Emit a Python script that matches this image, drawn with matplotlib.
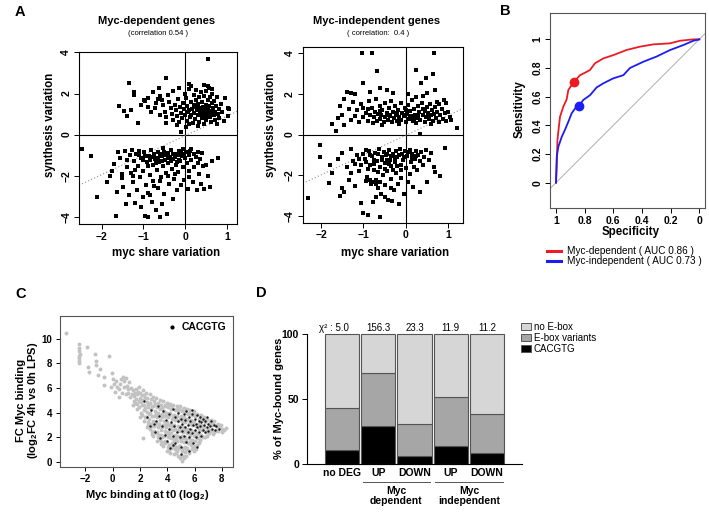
import numpy as np
import matplotlib
matplotlib.use("Agg")
import matplotlib.pyplot as plt
from matplotlib.patches import Patch
from matplotlib.lines import Line2D

plt.rcParams['font.family'] = ['Liberation Sans', 'DejaVu Sans']
plt.rcParams['mathtext.fontset'] = 'custom'
plt.rcParams['mathtext.rm'] = 'Liberation Sans:bold'
plt.rcParams['mathtext.default'] = 'rm'
plt.rcParams['axes.linewidth'] = 0.8

# -----------------------------
# data: panel A (myc share variation, synthesis variation)
# -----------------------------
dep_up = [
    (0.54, 3.66), (-0.46, 2.76), (-1.34, 2.49), (-1.23, 2.08), (-1.22, 1.95), (-1.58, 1.38), (-1.46, 1.14),
    (-1.38, 0.91), (-1.12, 0.57), (-0.99, 1.67), (-0.95, 1.65), (-0.78, 2.06), (-0.62, 2.25), (-0.60, 1.90),
    (-0.88, 1.35), (-0.82, 1.10), (-0.70, 1.55), (-0.72, 1.30), (-0.55, 1.70), (-0.52, 1.45), (-0.48, 1.10),
    (-0.45, 0.85), (-0.40, 1.95), (-0.38, 1.60), (-0.35, 1.30), (-0.32, 1.00), (-0.30, 0.70), (-0.28, 2.10),
    (-0.25, 1.45), (-0.22, 1.20), (-0.20, 0.90), (-0.18, 1.75), (-0.15, 0.60), (-0.12, 1.35), (-0.10, 1.05),
    (-0.08, 0.80), (-0.05, 1.55), (-0.03, 1.25), (-0.10, 0.12), (0.00, 0.95), (0.02, 1.80), (0.04, 0.65),
    (0.05, 1.40), (0.07, 1.10), (0.08, 2.20), (0.10, 2.45), (0.12, 0.85), (0.13, 1.60), (0.15, 2.35),
    (0.16, 1.25), (0.18, 0.55), (0.20, 1.95), (0.21, 1.05), (0.22, 1.45), (0.24, 0.75), (0.25, 2.15),
    (0.27, 1.70), (0.28, 1.20), (0.30, 0.95), (0.31, 1.50), (0.33, 0.60), (0.34, 1.85), (0.35, 1.30),
    (0.37, 1.05), (0.38, 2.05), (0.40, 0.80), (0.41, 1.60), (0.42, 1.35), (0.44, 0.50), (0.45, 1.15),
    (0.46, 1.90), (0.48, 0.95), (0.49, 1.45), (0.50, 2.10), (0.51, 0.70), (0.52, 1.25), (0.54, 1.70),
    (0.55, 1.00), (0.56, 2.25), (0.58, 1.40), (0.59, 0.85), (0.60, 1.85), (0.61, 1.15), (0.62, 0.60),
    (0.64, 1.55), (0.65, 2.00), (0.66, 1.30), (0.68, 0.95), (0.70, 1.65), (0.71, 1.10), (0.72, 0.70),
    (0.74, 1.40), (0.76, 1.85), (0.78, 1.00), (0.80, 1.25), (0.82, 0.80), (0.85, 1.50), (0.88, 1.10),
    (0.95, 1.80), (1.02, 1.30), (1.06, 1.25), (1.03, 0.90), (0.92, 0.65), (0.75, 0.50), (0.30, 0.40),
    (0.10, 0.50), (-0.20, 0.45), (0.02, 0.35), (0.45, 2.40), (0.55, 2.35), (0.65, 2.20), (0.25, 1.35),
    (0.15, 0.95), (0.35, 1.15), (0.45, 1.35), (0.55, 1.20), (0.65, 1.10), (0.60, 1.05), (0.50, 0.85),
    (0.40, 1.00), (0.30, 1.25), (0.20, 1.35), (0.10, 1.20), (-0.60, 0.95), (-0.65, 1.75), (-1.05, 1.45),
    (-0.90, 1.80), (-1.30, 1.20), (-0.45, 0.55), (0.00, 2.00), (-0.15, 2.25),
]
dep_down = [
    (-2.46, -0.70), (-2.26, -1.02), (-2.10, -3.04), (-1.87, -2.33), (-1.65, -3.98), (-1.62, -2.80), (-1.75, -1.75),
    (-1.70, -1.45), (-1.55, -1.15), (-1.50, -2.10), (-1.48, -2.55), (-1.45, -0.80), (-1.42, -3.40), (-1.40, -1.60),
    (-1.35, -2.95), (-1.32, -1.00), (-1.30, -1.85), (-1.28, -0.75), (-1.25, -2.30), (-1.22, -1.30), (-1.20, -3.35),
    (-1.18, -0.95), (-1.15, -2.70), (-1.12, -1.55), (-1.10, -0.80), (-1.08, -2.05), (-1.05, -1.15), (-1.02, -3.05),
    (-1.00, -1.75), (-0.98, -0.85), (-0.96, -3.98), (-0.94, -2.45), (-0.92, -1.35), (-0.90, -4.00), (-0.88, -2.85),
    (-0.86, -1.05), (-0.84, -1.95), (-0.82, -0.75), (-0.80, -3.30), (-0.78, -1.50), (-0.76, -2.25), (-0.74, -0.95),
    (-0.72, -1.20), (-0.70, -3.65), (-0.68, -1.70), (-0.66, -2.60), (-0.64, -0.85), (-0.62, -1.35), (-0.60, -4.00),
    (-0.58, -2.05), (-0.56, -1.05), (-0.54, -0.65), (-0.52, -1.55), (-0.50, -2.90), (-0.48, -1.25), (-0.46, -1.85),
    (-0.44, -3.84), (-0.42, -0.90), (-0.40, -1.40), (-0.38, -2.40), (-0.36, -1.10), (-0.34, -0.75), (-0.32, -1.65),
    (-0.30, -3.15), (-0.28, -1.20), (-0.26, -2.15), (-0.24, -0.95), (-0.22, -1.50), (-0.20, -2.70), (-0.18, -1.00),
    (-0.16, -1.80), (-0.14, -0.80), (-0.12, -1.30), (-0.10, -2.45), (-0.08, -1.05), (-0.06, -0.70), (-0.04, -1.60),
    (-0.02, -2.20), (0.00, -1.15), (0.02, -0.85), (0.04, -1.40), (0.06, -2.65), (0.08, -1.00), (0.10, -1.75),
    (0.12, -0.80), (0.15, -1.25), (0.18, -2.30), (0.20, -0.95), (0.22, -1.60), (0.25, -1.10), (0.28, -2.70),
    (0.30, -0.85), (0.32, -1.90), (0.35, -1.20), (0.38, -2.40), (0.40, -0.90), (0.42, -1.55), (0.46, -2.65),
    (0.50, -1.50), (0.55, -2.00), (0.60, -2.55), (0.65, -1.30), (0.78, -1.12), (-0.95, -1.05), (-0.85, -1.25),
    (-0.75, -1.05), (-0.65, -1.15), (-0.55, -1.30), (-0.45, -1.00), (-0.35, -1.30), (-0.25, -1.10), (-0.15, -1.25),
    (-0.05, -0.95), (-0.60, -0.95), (-0.70, -1.40), (-0.50, -0.85), (-0.40, -1.15), (-0.30, -0.95), (-0.20, -1.35),
    (-0.10, -0.90), (-0.80, -1.10), (-0.90, -1.55), (-1.00, -1.25), (-1.10, -1.00), (-1.20, -1.70), (-1.38, -1.25),
    (-1.60, -0.85), (-1.80, -2.00), (-1.52, -1.90), (-0.85, -2.95), (-0.75, -2.50), (-0.60, -2.25), (-0.40, -2.00),
    (-0.25, -1.90), (-0.55, -3.40), (-1.05, -3.50), (-1.25, -2.00), (0.10, -2.05), (0.30, -1.40), (0.15, -0.70),
]
indep_up = [
    (-1.03, 3.98), (-0.79, 3.98), (0.67, 3.98), (-0.68, 3.10), (0.24, 3.14), (0.65, 2.98), (0.47, 2.76),
    (-1.00, 2.52), (0.37, 2.52), (-1.40, 2.10), (-1.30, 2.05), (-1.20, 2.00), (-0.85, 2.10), (-0.60, 2.30),
    (-0.45, 2.20), (0.50, 2.05), (0.40, 1.90), (0.70, 2.20), (0.75, 1.60), (0.95, 1.55), (0.90, 1.70),
    (1.21, 0.33), (-1.75, 0.50), (-1.65, 0.18), (-1.60, 0.80), (-1.50, 0.95), (-1.45, 0.45), (-1.35, 1.25),
    (-1.30, 0.70), (-1.25, 1.60), (-1.20, 0.90), (-1.15, 1.20), (-1.10, 0.60), (-1.05, 1.50), (-1.00, 0.85),
    (-0.95, 1.05), (-0.90, 0.65), (-0.88, 1.65), (-0.85, 0.95), (-0.80, 1.30), (-0.78, 0.55), (-0.75, 0.85),
    (-0.72, 1.10), (-0.70, 1.75), (-0.68, 0.65), (-0.65, 1.00), (-0.62, 1.40), (-0.60, 0.75), (-0.58, 0.95),
    (-0.55, 1.20), (-0.52, 0.60), (-0.50, 1.55), (-0.48, 0.85), (-0.45, 1.05), (-0.42, 0.70), (-0.40, 1.30),
    (-0.38, 0.90), (-0.35, 1.65), (-0.32, 0.60), (-0.30, 1.10), (-0.28, 0.80), (-0.25, 1.40), (-0.22, 0.95),
    (-0.20, 0.65), (-0.18, 1.20), (-0.15, 0.85), (-0.12, 1.55), (-0.10, 0.70), (-0.08, 1.05), (-0.05, 0.90),
    (-0.02, 1.30), (0.00, 0.60), (0.02, 1.00), (0.05, 1.45), (0.08, 0.75), (0.10, 1.15), (0.12, 0.90),
    (0.15, 1.70), (0.18, 0.65), (0.20, 1.25), (0.22, 0.95), (0.25, 0.55), (0.28, 1.40), (0.30, 0.80),
    (0.32, 1.10), (0.35, 0.70), (0.38, 1.55), (0.40, 0.95), (0.42, 1.25), (0.45, 0.60), (0.48, 0.85),
    (0.50, 1.35), (0.52, 1.05), (0.55, 0.75), (0.58, 1.50), (0.60, 0.95), (0.62, 1.20), (0.65, 0.65),
    (0.68, 1.00), (0.70, 1.35), (0.72, 0.80), (0.75, 1.10), (0.78, 0.60), (0.82, 0.95), (0.85, 1.25),
    (0.88, 0.75), (0.92, 1.05), (0.95, 0.65), (1.00, 1.10), (1.05, 0.85), (1.08, 0.70), (0.35, 0.05),
    (-0.05, 0.95), (0.10, 0.85), (0.30, 0.95), (-0.40, 0.95), (-0.60, 1.15), (0.55, 0.95), (0.20, 0.75),
    (-0.20, 1.05), (0.45, 1.15), (0.00, 1.20), (-1.00, 1.30), (-0.90, 1.25), (-0.30, 2.05), (0.05, 2.00),
    (0.25, 1.85), (-0.15, 0.50), (0.60, 0.50), (-0.55, 0.45), (0.80, 1.50), (-1.45, 1.75), (-1.55, 1.40),
]
indep_down = [
    (-2.31, -3.12), (-2.04, -0.49), (-2.04, -1.12), (-1.81, -2.36), (-1.80, -1.50), (-1.75, -1.90), (-1.55, -3.00),
    (-1.50, -2.60), (-1.45, -2.80), (-1.60, -1.20), (-1.50, -0.90), (-1.40, -1.60), (-1.35, -2.20), (-1.30, -0.70),
    (-1.25, -1.30), (-1.20, -2.50), (-1.15, -1.00), (-1.10, -1.80), (-1.05, -3.35), (-1.00, -3.85), (-0.96, -1.20),
    (-0.92, -2.05), (-0.90, -3.95), (-0.88, -0.80), (-0.85, -1.50), (-0.82, -2.40), (-0.80, -1.05), (-0.78, -3.30),
    (-0.75, -1.75), (-0.72, -0.90), (-0.70, -2.20), (-0.68, -1.30), (-0.66, -2.60), (-0.64, -0.70), (-0.62, -4.02),
    (-0.60, -1.60), (-0.58, -2.90), (-0.56, -1.10), (-0.54, -2.00), (-0.52, -0.85), (-0.50, -1.40), (-0.48, -2.45),
    (-0.46, -1.00), (-0.44, -1.80), (-0.42, -3.20), (-0.40, -0.75), (-0.38, -1.25), (-0.36, -2.15), (-0.34, -1.55),
    (-0.32, -3.24), (-0.30, -0.95), (-0.28, -2.70), (-0.26, -1.35), (-0.24, -0.80), (-0.22, -1.90), (-0.20, -1.10),
    (-0.18, -2.40), (-0.15, -3.41), (-0.14, -0.70), (-0.12, -1.50), (-0.10, -2.10), (-0.08, -0.95), (-0.06, -1.25),
    (-0.04, -2.90), (-0.02, -0.80), (0.00, -1.65), (0.03, -1.05), (0.06, -2.30), (0.09, -0.75), (0.12, -1.35),
    (0.15, -0.95), (0.18, -2.55), (0.21, -1.20), (0.24, -0.80), (0.27, -1.75), (0.30, -1.00), (0.33, -2.80),
    (0.36, -0.85), (0.40, -1.50), (0.44, -1.10), (0.48, -0.75), (0.50, -2.32), (0.55, -1.25), (0.60, -0.90),
    (0.66, -1.60), (0.70, -1.85), (0.81, -2.03), (0.93, -0.65), (-0.95, -0.75), (-0.85, -1.00), (-0.75, -1.25),
    (-0.65, -0.95), (-0.55, -1.25), (-0.45, -0.95), (-0.35, -1.05), (-0.25, -1.15), (-0.15, -1.00), (-0.05, -1.10),
    (0.05, -0.85), (0.15, -1.15), (0.25, -1.05), (-1.00, -0.95), (-1.05, -1.50), (-0.90, -1.70), (-0.80, -2.30),
    (-0.70, -2.40), (-0.60, -2.30), (-0.95, -2.25), (-0.85, -2.20), (-0.50, -1.70), (-0.40, -1.45), (-0.30, -1.75),
    (-0.20, -1.55), (-0.10, -1.75), (-0.65, -1.85), (-0.75, -1.45), (-1.20, -1.45), (-1.10, -1.20), (-1.30, -1.90),
    (-0.35, -2.60), (-0.50, -3.05), (-0.70, -3.05), (0.10, -1.95), (0.35, -1.30), (0.20, -1.60), (-0.95, -1.35),
    (-0.45, -1.25),
]
dep_fit = (0.95, -0.05)      # slope, intercept of dotted trend line
indep_fit = (0.965, -0.034)

# -----------------------------
# data: panel B (ROC curves)
# -----------------------------
dep_spec = [1.0, 0.995, 0.99, 0.984, 0.972, 0.949, 0.926, 0.914, 0.891, 0.872, 0.833, 0.798, 0.763, 0.728,
            0.67, 0.6, 0.507, 0.414, 0.321, 0.205, 0.135, 0.042, 0.0]
dep_sens = [0.0, 0.12, 0.3, 0.356, 0.46, 0.53, 0.58, 0.647, 0.68, 0.705, 0.75, 0.767, 0.786, 0.833,
            0.867, 0.89, 0.926, 0.949, 0.965, 0.972, 0.99, 1.0, 1.0]
indep_spec = [1.0, 0.995, 0.984, 0.96, 0.937, 0.914, 0.891, 0.865, 0.84, 0.81, 0.763, 0.716, 0.67, 0.6,
              0.53, 0.484, 0.39, 0.298, 0.205, 0.112, 0.042, 0.0]
indep_sens = [0.0, 0.18, 0.25, 0.32, 0.37, 0.425, 0.484, 0.52, 0.535, 0.577, 0.61, 0.665, 0.693, 0.728,
              0.75, 0.8, 0.844, 0.88, 0.925, 0.96, 0.99, 1.0]
dep_cut = (0.872, 0.705)
indep_cut = (0.84, 0.535)
roc_labels = ["Myc-dependent ( AUC 0.86 )", "Myc-independent ( AUC 0.73 )"]

# -----------------------------
# data: panel C (Myc binding at t0, FC Myc binding)
# -----------------------------
all_peaks = [
    (-3.45, 10.45), (-2.45, 9.55), (-2.45, 9.25), (-2.45, 9.0), (-2.42, 8.8), (-2.45, 8.6), (-2.45, 8.4),
    (-2.45, 8.2), (-2.45, 8.0), (-1.85, 9.35), (-1.8, 7.7), (-1.7, 7.3), (-1.3, 8.75), (-1.25, 8.2),
    (-1.2, 7.85), (-1.05, 7.05), (-0.9, 7.55), (-0.6, 6.9), (-0.65, 6.25), (-0.3, 8.6), (-0.05, 7.25),
    (0.05, 6.7), (0.12, 6.35), (0.25, 6.55), (0.32, 6.05), (0.5, 5.95), (0.6, 6.7), (0.75, 6.9), (0.85, 6.55),
    (0.95, 5.5), (1.0, 6.8), (1.05, 6.2), (1.15, 5.6), (1.3, 5.25), (1.35, 6.0), (0.2, 5.7), (0.45, 5.3),
    (0.7, 5.6), (-0.1, 6.1), (1.2, 6.45),
    (1.48, 5.8), (1.55, 5.35), (1.6, 4.95), (1.52, 4.6), (1.72, 5.9), (1.78, 5.5), (1.7, 5.1), (1.82, 4.7),
    (1.76, 4.3), (1.95, 6.05), (2.02, 5.6), (1.98, 5.2), (2.05, 4.85), (1.93, 4.45), (2.08, 4.0), (2.0, 3.6),
    (2.2, 5.85), (2.3, 5.45), (2.22, 5.05), (2.33, 4.6), (2.27, 4.2), (2.18, 3.8), (2.3, 3.35), (2.25, 1.9),
    (2.45, 5.6), (2.55, 5.2), (2.48, 4.85), (2.58, 4.45), (2.5, 4.05), (2.43, 3.65), (2.56, 3.2), (2.52, 2.8),
    (2.7, 5.5), (2.8, 5.1), (2.73, 4.75), (2.82, 4.3), (2.76, 3.95), (2.68, 3.5), (2.8, 3.1), (2.74, 2.65),
    (2.85, 2.25), (2.95, 5.3), (3.05, 4.95), (2.98, 4.55), (3.08, 4.15), (3.0, 3.75), (2.93, 3.3), (3.05, 2.9),
    (3.02, 2.5), (2.97, 2.1), (3.2, 5.2), (3.3, 4.8), (3.22, 4.45), (3.32, 4.0), (3.26, 3.6), (3.18, 3.2),
    (3.3, 2.85), (3.24, 2.4), (3.33, 2.0), (3.27, 1.65), (3.45, 5.0), (3.55, 4.65), (3.48, 4.25), (3.58, 3.85),
    (3.5, 3.4), (3.43, 3.05), (3.56, 2.6), (3.52, 2.2), (3.46, 1.8), (3.57, 1.45), (3.7, 4.9), (3.8, 4.5),
    (3.73, 4.1), (3.82, 3.7), (3.76, 3.3), (3.68, 2.95), (3.8, 2.5), (3.74, 2.1), (3.84, 1.7), (3.72, 1.3),
    (3.95, 4.8), (4.05, 4.45), (3.98, 4.0), (4.08, 3.6), (4.0, 3.2), (3.93, 2.8), (4.05, 2.4), (4.02, 2.0),
    (3.97, 1.6), (4.07, 1.2), (4.0, 0.9), (4.2, 4.7), (4.3, 4.3), (4.22, 3.95), (4.32, 3.5), (4.26, 3.1),
    (4.18, 2.7), (4.3, 2.3), (4.24, 1.9), (4.33, 1.5), (4.27, 1.1), (4.2, 0.7), (4.45, 4.6), (4.55, 4.2),
    (4.48, 3.8), (4.58, 3.4), (4.5, 3.0), (4.43, 2.6), (4.56, 2.2), (4.52, 1.8), (4.46, 1.4), (4.57, 1.0),
    (4.5, 0.6), (4.7, 4.55), (4.8, 4.1), (4.73, 3.7), (4.82, 3.3), (4.76, 2.9), (4.68, 2.5), (4.8, 2.1),
    (4.74, 1.7), (4.84, 1.3), (4.72, 0.9), (4.8, 0.45), (4.95, 4.5), (5.05, 4.1), (4.98, 3.7), (5.08, 3.3),
    (5.0, 2.9), (4.93, 2.5), (5.05, 2.1), (5.02, 1.7), (4.97, 1.3), (5.07, 0.9), (5.0, 0.5), (5.1, 0.1),
    (5.2, 4.4), (5.3, 4.0), (5.22, 3.6), (5.32, 3.2), (5.26, 2.8), (5.18, 2.4), (5.3, 2.0), (5.24, 1.6),
    (5.33, 1.2), (5.27, 0.8), (5.2, 0.3), (5.45, 4.3), (5.55, 3.9), (5.48, 3.5), (5.58, 3.1), (5.5, 2.7),
    (5.43, 2.3), (5.56, 1.9), (5.52, 1.5), (5.46, 1.1), (5.57, 0.7), (5.7, 4.2), (5.8, 3.8), (5.73, 3.4),
    (5.82, 3.0), (5.76, 2.6), (5.68, 2.2), (5.8, 1.8), (5.74, 1.4), (5.84, 1.0), (5.95, 4.1), (6.05, 3.7),
    (5.98, 3.3), (6.08, 2.9), (6.0, 2.5), (5.93, 2.1), (6.05, 1.7), (6.02, 1.3), (5.97, 0.9), (6.2, 3.9),
    (6.3, 3.5), (6.22, 3.1), (6.32, 2.7), (6.26, 2.3), (6.18, 1.9), (6.3, 1.5), (6.45, 3.8), (6.55, 3.4),
    (6.48, 3.0), (6.58, 2.6), (6.5, 2.2), (6.43, 1.8), (6.7, 3.6), (6.8, 3.2), (6.73, 2.8), (6.82, 2.4),
    (6.76, 2.0), (6.95, 3.5), (7.05, 3.1), (6.98, 2.7), (7.08, 2.3), (7.2, 3.4), (7.3, 3.0), (7.22, 2.6),
    (7.32, 2.25), (7.45, 3.3), (7.55, 2.9), (7.48, 2.5), (7.7, 3.1), (7.8, 2.8), (7.73, 2.5), (7.95, 3.0),
    (8.05, 2.7), (7.98, 2.45), (8.3, 2.75),
    (3.12, 4.7), (3.15, 3.9), (3.1, 3.1), (3.14, 2.3), (3.37, 4.6), (3.4, 3.8), (3.38, 3.0), (3.4, 2.2),
    (3.62, 4.4), (3.64, 3.6), (3.6, 2.8), (3.65, 2.0), (3.62, 1.6), (3.87, 4.6), (3.9, 3.9), (3.88, 3.1),
    (3.9, 2.3), (3.86, 1.5), (4.12, 4.6), (4.14, 3.8), (4.12, 3.0), (4.15, 2.2), (4.12, 1.4), (4.1, 0.95),
    (4.37, 4.5), (4.4, 3.7), (4.38, 2.9), (4.4, 2.0), (4.36, 1.2), (4.62, 4.3), (4.64, 3.5), (4.6, 2.7),
    (4.65, 1.9), (4.62, 1.2), (4.62, 0.7), (4.87, 4.3), (4.9, 3.5), (4.88, 2.7), (4.9, 1.9), (4.86, 1.1),
    (4.9, 0.3), (5.12, 4.3), (5.14, 3.5), (5.12, 2.7), (5.15, 1.9), (5.12, 1.1), (5.14, 0.5), (5.37, 4.2),
    (5.4, 3.4), (5.38, 2.6), (5.4, 1.8), (5.36, 1.0), (5.4, 0.5), (5.62, 4.0), (5.64, 3.2), (5.6, 2.4),
    (5.65, 1.6), (5.62, 0.9), (5.87, 4.0), (5.9, 3.2), (5.88, 2.4), (5.9, 1.6), (5.86, 1.2), (6.12, 3.8),
    (6.14, 3.0), (6.12, 2.2), (6.15, 1.4), (6.1, 1.05), (6.37, 3.7), (6.4, 2.9), (6.38, 2.1), (6.36, 1.6),
    (6.62, 3.5), (6.64, 2.8), (6.6, 2.0), (6.87, 3.4), (6.9, 2.6), (6.88, 2.1), (7.12, 3.2), (7.14, 2.5),
    (7.37, 3.1), (7.4, 2.4), (7.62, 3.0), (7.64, 2.6), (7.87, 2.9), (8.15, 2.6), (2.62, 4.6), (2.64, 3.9),
    (2.6, 3.0), (2.87, 4.5), (2.9, 3.7), (2.88, 2.9), (2.9, 2.4), (2.38, 5.2), (2.4, 4.4), (2.4, 3.6),
    (2.12, 5.4), (2.15, 4.6), (1.88, 5.7), (1.9, 4.9), (1.65, 5.6), (1.62, 4.75), (1.4, 5.5), (1.1, 5.9),
    (0.85, 6.1), (0.55, 6.35),
]
cacgtg_peaks = [
    (2.3, 4.9), (2.5, 3.6), (2.8, 4.2), (3.0, 3.1), (3.1, 2.4), (3.3, 4.5), (3.4, 3.7), (3.5, 1.9), (3.6, 2.9),
    (3.7, 4.1), (3.8, 2.2), (3.9, 3.4), (4.0, 1.7), (4.1, 2.7), (4.1, 3.9), (4.2, 1.1), (4.3, 3.2), (4.4, 2.1),
    (4.4, 4.3), (4.5, 2.9), (4.6, 3.6), (4.6, 1.5), (4.7, 2.4), (4.8, 3.3), (4.8, 4.0), (4.9, 2.0), (4.9, 2.8),
    (5.0, 3.5), (5.0, 1.2), (5.1, 2.5), (5.1, 3.1), (5.2, 3.9), (5.2, 2.1), (5.3, 2.8), (5.3, 3.4), (5.4, 1.6),
    (5.4, 4.1), (5.5, 2.4), (5.5, 3.0), (5.6, 3.6), (5.6, 2.0), (5.7, 2.7), (5.7, 3.3), (5.8, 3.9), (5.8, 2.3),
    (5.9, 3.0), (5.9, 1.5), (6.0, 2.6), (6.0, 3.5), (6.1, 3.1), (6.1, 2.0), (6.2, 3.8), (6.2, 2.8), (6.3, 3.3),
    (6.3, 2.4), (6.4, 2.9), (6.4, 3.6), (6.5, 2.1), (6.5, 3.2), (6.6, 2.6), (6.6, 3.5), (6.7, 3.0), (6.8, 2.4),
    (6.8, 3.3), (6.9, 2.8), (7.0, 3.1), (7.0, 2.5), (7.1, 2.9), (7.2, 3.3), (7.3, 2.7), (7.4, 3.0), (7.5, 2.6),
    (7.6, 2.9), (7.8, 2.7), (6.2, 1.2), (5.6, 0.9), (5.0, 0.6), (4.4, 1.4), (3.2, 3.3), (2.7, 2.9), (5.85, 4.2),
    (6.9, 3.6),
]

# -----------------------------
# data: panel D (% of Myc-bound genes)
# -----------------------------
groups = ["no DEG", "UP", "DOWN", "UP", "DOWN"]
pct_cacgtg = np.array([10.8, 29.2, 6.7, 14.4, 8.7])
pct_variants = np.array([32.5, 41.1, 24.1, 37.1, 30.3])
pct_no_ebox = 100 - pct_cacgtg - pct_variants
chi2 = ["5.0", "156.3", "23.3", "11.9", "11.2"]

# -----------------------------
# figure
# -----------------------------
W, H = 709, 516
fig = plt.figure(figsize=(W / 100, H / 100), dpi=100)


def fx(x):
    return x / W


def fy(y):
    return 1 - y / H


def box(l, t, r, b):
    return [l / W, 1 - b / H, (r - l) / W, (b - t) / H]


def bold_ticks(ax):
    for t in ax.get_xticklabels() + ax.get_yticklabels():
        t.set_fontweight('bold')


def scatter_panel(rect, up, down, xlim, ylim, fit):
    ax = fig.add_axes(rect)
    pts = np.array(up + down)
    ax.scatter(pts[:, 0], pts[:, 1], s=6.5, marker='s', c='k', linewidths=0, zorder=3)
    ax.axhline(0, color='k', lw=0.8)
    ax.axvline(0, color='k', lw=0.8)
    ax.axline((0, fit[1]), slope=fit[0], color='#8c8c8c', ls=(0, (1, 2)), lw=0.8)
    ax.set_xlim(xlim)
    ax.set_ylim(ylim)
    ax.set_xticks([-2, -1, 0, 1])
    ax.set_yticks([-4, -2, 0, 2, 4])
    ax.tick_params(direction='out', length=3.5, width=0.7, labelsize=7.5, pad=2)
    ax.tick_params(axis='y', labelrotation=90)
    for t in ax.get_yticklabels():
        t.set_va('center')
    bold_ticks(ax)
    return ax


# 1. panel A
scatter_panel(box(79, 52, 237, 224), dep_up, dep_down, (-2.54, 1.24), (-4.35, 4.02), dep_fit)
scatter_panel(box(302.7, 46.7, 462.7, 222.7), indep_up, indep_down, (-2.44, 1.35), (-4.31, 4.3), indep_fit)

fig.text(fx(157), fy(21.5), "Myc-dependent genes", ha='center', va='center', fontsize=8, fontweight='bold')
fig.text(fx(158), fy(33.3), "(correlation 0.54 )", ha='center', va='center', fontsize=5.5)
fig.text(fx(377), fy(21.5), "Myc-independent genes", ha='center', va='center', fontsize=8, fontweight='bold')
fig.text(fx(378), fy(33.3), "( correlation:  0.4 )", ha='center', va='center', fontsize=5.5)
fig.text(fx(166), fy(253), "myc share variation", ha='center', va='center', fontsize=8.3, fontweight='bold')
fig.text(fx(395), fy(253), "myc share variation", ha='center', va='center', fontsize=8.3, fontweight='bold')
fig.text(fx(50), fy(125), "synthesis variation", ha='center', va='center', rotation=90,
         fontsize=8.3, fontweight='bold')
fig.text(fx(271), fy(125), "synthesis variation", ha='center', va='center', rotation=90,
         fontsize=8.3, fontweight='bold')

# 2. panel B
axb = fig.add_axes(box(550, 12.7, 705.3, 208.3))
red, blue = '#ec1c24', '#1c1cf4'
axb.axline((1, 0), (0, 1), color='#b0b0b0', lw=0.7)
axb.plot(dep_spec, dep_sens, color=red, lw=1.3)
axb.plot(indep_spec, indep_sens, color=blue, lw=1.3)
axb.plot(*dep_cut, 'o', color=red, ms=6)
axb.plot(*indep_cut, 'o', color=blue, ms=6)
axb.set_xlim(1.042, -0.042)
axb.set_ylim(-0.179, 1.186)
axb.set_xticks([1, 0.8, 0.6, 0.4, 0.2, 0])
axb.set_xticklabels(["1", "0.8", "0.6", "0.4", "0.2", "0"])
axb.set_yticks([0, 0.2, 0.4, 0.6, 0.8, 1])
axb.set_yticklabels(["0", "0.2", "0.4", "0.6", "0.8", "1"])
axb.tick_params(direction='out', length=3.5, width=0.7, labelsize=7.5, pad=2)
axb.tick_params(axis='y', labelrotation=90)
for t in axb.get_yticklabels():
    t.set_va('center')
bold_ticks(axb)
for s in axb.spines.values():
    s.set_color('#555555')
fig.text(fx(520), fy(109), "Sensitivity", ha='center', va='center', rotation=90, fontsize=8.3, fontweight='bold')
fig.text(fx(631), fy(232), "Specificity", ha='center', va='center', fontsize=8.3, fontweight='bold')
roc_handles = [Line2D([], [], color=red, lw=2.2), Line2D([], [], color=blue, lw=2.2)]
fig.legend(roc_handles, roc_labels, loc='upper left', bbox_to_anchor=(fx(547), fy(246)), frameon=False,
           fontsize=7.2, handlelength=1.4, handletextpad=0.6, labelspacing=0.0, borderpad=0, borderaxespad=0)

# 3. panel C
axc = fig.add_axes(box(60, 316, 233, 466.7))
gp = np.array(all_peaks)
bp = np.array(cacgtg_peaks)
axc.scatter(gp[:, 0], gp[:, 1], s=8, c='#c2c2c2', linewidths=0)
axc.scatter(bp[:, 0], bp[:, 1], s=3, c='#1a1a1a', linewidths=0)
axc.set_xlim(-3.86, 8.82)
axc.set_ylim(-0.4, 11.85)
axc.set_xticks([-2, 0, 2, 4, 6, 8])
axc.set_yticks([0, 2, 4, 6, 8, 10])
axc.tick_params(direction='out', length=3, width=0.7, labelsize=7, pad=2.5)
bold_ticks(axc)
for s in axc.spines.values():
    s.set_color('#555555')
axc.legend([Line2D([], [], ls='', marker='o', ms=2, color='k')], ["CACGTG"], loc='upper right',
           frameon=False, prop={'size': 7.5, 'weight': 'bold'}, handlelength=0.8, handletextpad=0.6,
           borderaxespad=0.2)
fig.text(fx(28), fy(400), "FC Myc binding\n(log$_2$FC 4h vs 0h LPS)", ha='center', va='center',
         rotation=90, fontsize=8, fontweight='bold', linespacing=1.05)
fig.text(fx(147), fy(495), "Myc binding at t0 (log$_2$)", ha='center', va='center', fontsize=8, fontweight='bold')

# 4. panel D
axd = fig.add_axes(box(306.7, 334.3, 521.7, 464.3))
pos = np.arange(len(groups))
c_light, c_mid = '#d6d6d6', '#a6a6a6'
bar_kw = dict(width=0.946, edgecolor='#555555', linewidth=0.8, clip_on=False)
axd.bar(pos, pct_cacgtg, color='k', **bar_kw)
axd.bar(pos, pct_variants, bottom=pct_cacgtg, color=c_mid, **bar_kw)
axd.bar(pos, pct_no_ebox, bottom=pct_cacgtg + pct_variants, color=c_light, **bar_kw)
axd.set_xlim(-0.974, 4.957)
axd.set_ylim(0, 100)
axd.spines['top'].set_visible(False)
axd.spines['right'].set_visible(False)
axd.set_yticks([0, 50, 100])
axd.set_xticks(pos)
axd.set_xticklabels(groups)
axd.tick_params(axis='y', direction='out', length=3.5, width=0.7, labelsize=7.5, pad=2)
axd.tick_params(axis='x', length=0, labelsize=7.5, pad=3)
bold_ticks(axd)
for i, v in enumerate(chi2):
    lbl = "χ² : " + v if i == 0 else v
    axd.text(i - (0.22 if i == 0 else 0), 105, lbl, ha='center', va='center', fontsize=7, clip_on=False)
trans = axd.get_xaxis_transform()
axd.plot([0.57, 2.43], [-0.134, -0.134], color='#555555', lw=0.7, transform=trans, clip_on=False)
axd.plot([2.57, 4.45], [-0.134, -0.134], color='#555555', lw=0.7, transform=trans, clip_on=False)
axd.text(1.5, -0.245, "Myc\ndependent", transform=trans, ha='center', va='center', fontsize=7.5,
         fontweight='bold', linespacing=1.0)
axd.text(3.5, -0.245, "Myc\nindependent", transform=trans, ha='center', va='center', fontsize=7.5,
         fontweight='bold', linespacing=1.0)
fig.text(fx(279), fy(398), "% of Myc-bound genes", ha='center', va='center', rotation=90,
         fontsize=8, fontweight='bold')
box_handles = [Patch(facecolor=c_light, edgecolor='#555555', lw=0.7),
               Patch(facecolor=c_mid, edgecolor='#555555', lw=0.7),
               Patch(facecolor='k', edgecolor='#555555', lw=0.7)]
fig.legend(box_handles, ["no E-box", "E-box variants", "CACGTG"], loc='upper left',
           bbox_to_anchor=(fx(521), fy(322)), frameon=False, fontsize=7, handlelength=1.0,
           handleheight=0.7, handletextpad=0.3, labelspacing=0.1, borderpad=0, borderaxespad=0)

# panel letters
for letter, x, y in [("A", 15, 5), ("B", 500, 4), ("C", 15, 287), ("D", 256, 286)]:
    fig.text(fx(x), fy(y), letter, ha='left', va='top', fontsize=10.5, fontweight='bold')

fig.savefig("out.png", dpi=100)
